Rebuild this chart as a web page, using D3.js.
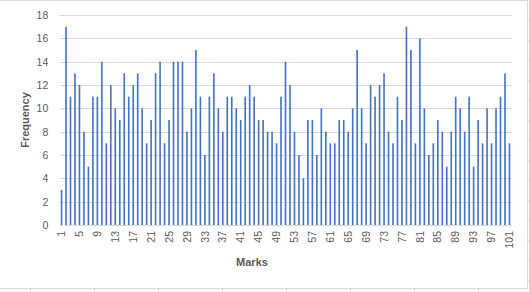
<!DOCTYPE html>
<html>
<head>
<meta charset="utf-8">
<script src="https://cdn.jsdelivr.net/npm/d3@7"></script>
<style>
  body { margin: 0; background: #fff; }
  svg { display: block; font-family: "Liberation Sans", Arial, sans-serif; }
  .tick text { fill: #595959; }
</style>
</head>
<body>
<svg id="chart" width="529" height="292"></svg>
<script>
// marks 1..101 and how often each one occurs
var marks = d3.range(1, 102);
var frequency = [
  3, 17, 11, 13, 12, 8, 5, 11, 11, 14,
  7, 12, 10, 9, 13, 11, 12, 13, 10, 7,
  9, 13, 14, 7, 9, 14, 14, 14, 8, 10,
  15, 11, 6, 11, 13, 10, 8, 11, 11, 10,
  9, 11, 12, 11, 9, 9, 8, 8, 7, 11,
  14, 12, 8, 6, 4, 9, 9, 6, 10, 8,
  7, 7, 9, 9, 8, 10, 15, 10, 7, 12,
  11, 12, 13, 8, 7, 11, 9, 17, 15, 7,
  16, 10, 6, 7, 9, 8, 5, 8, 11, 10,
  8, 11, 5, 9, 7, 10, 7, 10, 11, 13,
  7
];
var yTicks = d3.range(0, 19, 2);
var xTickLabels = marks.filter(function(m) { return (m - 1) % 4 === 0; });

var svg = d3.select('#chart');
var plot = {left: 59.3, right: 511.7, top: 15, bottom: 225};

// spreadsheet cell borders around the chart frame
var grey = '#d9d9d9';
svg.append('line').attr('x1', 0).attr('x2', 527.5).attr('y1', 0.5).attr('y2', 0.5).attr('stroke', grey);
svg.append('line').attr('x1', 527.5).attr('x2', 527.5).attr('y1', 0).attr('y2', 288.5).attr('stroke', grey);
svg.append('line').attr('x1', 0).attr('x2', 527.5).attr('y1', 288.5).attr('y2', 288.5).attr('stroke', grey);
d3.range(30, 527, 64).forEach(function(xp) {
    svg.append('line').attr('x1', xp + 0.5).attr('x2', xp + 0.5).attr('y1', 288).attr('y2', 292).attr('stroke', grey);
});
d3.range(20.7, 288, 20).forEach(function(yp) {
    svg.append('line').attr('x1', 527).attr('x2', 529).attr('y1', yp).attr('y2', yp).attr('stroke', grey);
});

var x = d3.scaleBand()
    .domain(marks)
    .range([plot.left, plot.right])
    .paddingInner(0.64)
    .paddingOuter(0.32);

var y = d3.scaleLinear()
    .domain([0, 18])
    .range([plot.bottom, plot.top]);

// gridlines
svg.append('g')
    .selectAll('line')
    .data(yTicks)
    .join('line')
    .attr('x1', plot.left).attr('x2', plot.right)
    .attr('y1', function(d) { return Math.round(y(d)) + 0.5; })
    .attr('y2', function(d) { return Math.round(y(d)) + 0.5; })
    .attr('stroke', grey);

// y axis labels
var yAxis = svg.append('g')
    .attr('transform', 'translate(' + plot.left + ',0)')
    .call(d3.axisLeft(y).tickValues(yTicks).tickSize(0).tickPadding(11));
yAxis.select('.domain').remove();
yAxis.selectAll('text').attr('font-size', '10.5px');

// bars
svg.append('g')
    .selectAll('rect')
    .data(marks)
    .join('rect')
    .attr('x', function(m) { return x(m); })
    .attr('width', x.bandwidth())
    .attr('y', function(m, i) { return y(frequency[i]); })
    .attr('height', function(m, i) { return y(0) - y(frequency[i]); })
    .attr('fill', '#4472c4');

// x axis
var xAxis = svg.append('g')
    .attr('transform', 'translate(0,' + plot.bottom + ')')
    .call(d3.axisBottom(x).tickValues(xTickLabels).tickSize(0).tickPadding(0));
xAxis.select('.domain').attr('stroke', grey).attr('d', 'M' + plot.left + ',0.5H' + plot.right);
xAxis.selectAll('text')
    .attr('font-size', '10.5px')
    .attr('transform', 'rotate(-90)')
    .attr('text-anchor', 'end')
    .attr('x', -6)
    .attr('y', 0)
    .attr('dy', '0.35em');

// axis titles
svg.append('text')
    .attr('x', 252).attr('y', 266)
    .attr('text-anchor', 'middle')
    .attr('font-size', '11px').attr('font-weight', 'bold')
    .attr('fill', '#595959')
    .text('Marks');

svg.append('text')
    .attr('transform', 'translate(29,120) rotate(-90)')
    .attr('text-anchor', 'middle')
    .attr('font-size', '11px').attr('font-weight', 'bold')
    .attr('fill', '#595959')
    .text('Frequency');
</script>
</body>
</html>
